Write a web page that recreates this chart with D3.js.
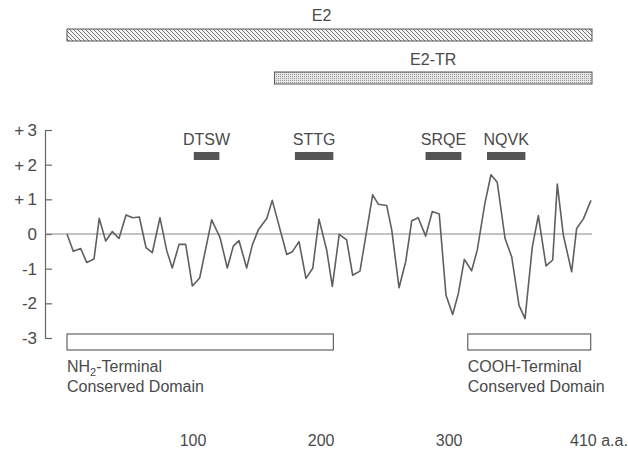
<!DOCTYPE html>
<html>
<head>
<meta charset="utf-8">
<script src="https://cdn.jsdelivr.net/npm/d3@7"></script>
<style>
  body { margin: 0; background: #fff; }
  text { font-family: "Liberation Sans", Arial, sans-serif; fill: #4a4a4a; }
</style>
</head>
<body>
<div id="vis"></div>
<script>
// hydrophilicity profile, residue position (a.a.) and value
const positions = [0, 4.9, 10.7, 15.4, 21.1, 25.2, 30.2, 35.4, 40.6, 46.1,
  51.3, 56.5, 61.7, 66.6, 72.6, 77.9, 82.2, 87.5, 92.7, 97.9,
  103.6, 113, 119.5, 125.2, 129.9, 134.3, 140.3, 144.7, 149.4, 156,
  160.3, 171.6, 176, 181.2, 186.6, 191.9, 196.8, 202.8, 207.2, 212.6,
  218.4, 223.1, 228.8, 238.7, 243.1, 249.7, 253.6, 259.3, 264.5, 269.2,
  274.3, 280.1, 285.3, 290.7, 296, 301.2, 305.6, 310.3, 316, 320.4,
  326.4, 331.1, 336, 342.1, 347.3, 353, 357.7, 363.4, 368.1, 374.1,
  379.3, 382.9, 387.6, 394.1, 398, 403.2, 409.2];
const values = [0, -0.5, -0.42, -0.82, -0.72, 0.45, -0.2, 0.07, -0.13, 0.55,
  0.47, 0.49, -0.39, -0.54, 0.47, -0.48, -0.98, -0.3, -0.3, -1.5,
  -1.27, 0.41, -0.1, -0.98, -0.35, -0.19, -0.98, -0.32, 0.12, 0.45,
  0.97, -0.59, -0.51, -0.22, -1.28, -0.99, 0.43, -0.46, -1.51, -0.01,
  -0.17, -1.19, -1.07, 1.13, 0.86, 0.82, 0.12, -1.55, -0.8, 0.38,
  0.47, -0.06, 0.65, 0.58, -1.77, -2.32, -1.72, -0.73, -1.06, -0.46,
  0.89, 1.71, 1.49, -0.13, -0.66, -2.06, -2.44, -0.37, 0.53, -0.92,
  -0.75, 1.44, -0.03, -1.09, 0.16, 0.43, 0.97];

// axis ticks
const yTicks = [-3, -2, -1, 0, 1, 2, 3];
const xTicks = [100, 200, 300, 410];
const xTickLabels = ["100", "200", "300", "410 a.a."];

// protein bars on top (start, end in a.a.)
const proteinNames = ["E2", "E2-TR"];
const proteinStarts = [0, 162];
const proteinEnds = [410, 410];

// peptide regions
const peptideNames = ["DTSW", "STTG", "SRQE", "NQVK"];
const peptideStarts = [99, 178, 280, 328];
const peptideEnds = [119, 208, 308, 358];

// conserved domains
const domainStarts = [0, 313];
const domainEnds = [208, 409];
const domainLine1 = ["NH", "COOH-Terminal"];
const domainLine2 = ["Conserved Domain", "Conserved Domain"];

const FRAME_WIDTH = 628;
const FRAME_HEIGHT = 449;

const FRAME = d3.select("#vis")
  .append("svg")
    .attr("width", FRAME_WIDTH)
    .attr("height", FRAME_HEIGHT);

// scales
const X = d3.scaleLinear().domain([0, 410]).range([67, 592]);
const Y = d3.scaleLinear().domain([-3, 3]).range([338, 130]);

// fill patterns for the protein bars
const defs = FRAME.append("defs");
const hatch = defs.append("pattern")
    .attr("id", "hatch")
    .attr("patternUnits", "userSpaceOnUse")
    .attr("width", 4).attr("height", 4);
hatch.append("rect").attr("width", 4).attr("height", 4).attr("fill", "#f4f4f4");
hatch.append("path")
    .attr("d", "M0,0L4,4M-1,3L1,5M3,-1L5,1")
    .attr("stroke", "#666").attr("stroke-width", 0.9);

const dots = defs.append("pattern")
    .attr("id", "dots")
    .attr("patternUnits", "userSpaceOnUse")
    .attr("width", 2).attr("height", 2);
dots.append("rect").attr("width", 2).attr("height", 2).attr("fill", "#e6e6e6");
dots.append("rect").attr("width", 1).attr("height", 1).attr("fill", "#9a9a9a");

// top protein bars
const barY = [29, 72];
const labelY = [21, 65];
proteinNames.forEach((name, i) => {
  FRAME.append("rect")
      .attr("x", X(proteinStarts[i]))
      .attr("y", barY[i])
      .attr("width", X(proteinEnds[i]) - X(proteinStarts[i]))
      .attr("height", 12)
      .attr("fill", i === 0 ? "url(#hatch)" : "url(#dots)")
      .attr("stroke", "#555")
      .attr("stroke-width", 1);
  FRAME.append("text")
      .attr("x", (X(proteinStarts[i]) + X(proteinEnds[i])) / 2 + (i === 0 ? -8 : 0))
      .attr("y", labelY[i])
      .attr("text-anchor", "middle")
      .attr("font-size", 16)
      .text(name);
});

// y axis, ticks pointing inward
const yAxis = FRAME.append("g")
    .attr("transform", "translate(45,0)")
    .call(d3.axisLeft(Y)
      .tickValues(yTicks)
      .tickSize(-7)
      .tickPadding(8)
      .tickFormat((d) => d > 0 ? "+\u2009" + d : (d < 0 ? "-" + Math.abs(d) : "0")));
yAxis.selectAll("path, line").attr("stroke", "#666").attr("stroke-width", 1.2);
yAxis.selectAll("text")
    .attr("font-size", 17)
    .attr("font-family", "Liberation Sans, Arial, sans-serif")
    .attr("fill", "#4a4a4a");

// zero line
FRAME.append("line")
    .attr("x1", 45).attr("x2", X(410))
    .attr("y1", Y(0)).attr("y2", Y(0))
    .attr("stroke", "#888").attr("stroke-width", 1);

// peptide markers
FRAME.selectAll(".pep")
    .data(peptideNames)
    .enter()
    .append("rect")
      .attr("class", "pep")
      .attr("x", (d, i) => X(peptideStarts[i]))
      .attr("y", 152)
      .attr("width", (d, i) => X(peptideEnds[i]) - X(peptideStarts[i]))
      .attr("height", 8)
      .attr("fill", "#555");

FRAME.selectAll(".peplabel")
    .data(peptideNames)
    .enter()
    .append("text")
      .attr("class", "peplabel")
      .attr("x", (d, i) => (X(peptideStarts[i]) + X(peptideEnds[i])) / 2)
      .attr("y", 145)
      .attr("text-anchor", "middle")
      .attr("font-size", 16)
      .text((d) => d);

// hydrophilicity line
const line = d3.line()
    .x((d, i) => X(positions[i]))
    .y((d) => Y(d));

FRAME.append("path")
    .datum(values)
    .attr("d", line)
    .attr("fill", "none")
    .attr("stroke", "#5f5f5f")
    .attr("stroke-width", 1.6)
    .attr("stroke-linejoin", "round");

// conserved domain boxes
domainStarts.forEach((s, i) => {
  FRAME.append("rect")
      .attr("x", X(s))
      .attr("y", 334)
      .attr("width", X(domainEnds[i]) - X(s))
      .attr("height", 16)
      .attr("fill", "#fff")
      .attr("stroke", "#555")
      .attr("stroke-width", 1.1);

  const t1 = FRAME.append("text")
      .attr("x", X(s))
      .attr("y", 372)
      .attr("font-size", 16);
  if (i === 0) {
    t1.append("tspan").text(domainLine1[i]);
    t1.append("tspan").attr("font-size", 11).attr("dy", 4).text("2");
    t1.append("tspan").attr("dy", -4).text("-Terminal");
  } else {
    t1.text(domainLine1[i]);
  }
  FRAME.append("text")
      .attr("x", X(s))
      .attr("y", 392)
      .attr("font-size", 16)
      .text(domainLine2[i]);
});

// x tick labels (no axis line)
FRAME.selectAll(".xlab")
    .data(xTicks)
    .enter()
    .append("text")
      .attr("class", "xlab")
      .attr("x", (d, i) => i === xTicks.length - 1 ? X(d) - 22 : X(d) - 2)
      .attr("y", 446)
      .attr("text-anchor", (d, i) => i === xTicks.length - 1 ? "start" : "middle")
      .attr("font-size", 16)
      .text((d, i) => xTickLabels[i]);
</script>
</body>
</html>
